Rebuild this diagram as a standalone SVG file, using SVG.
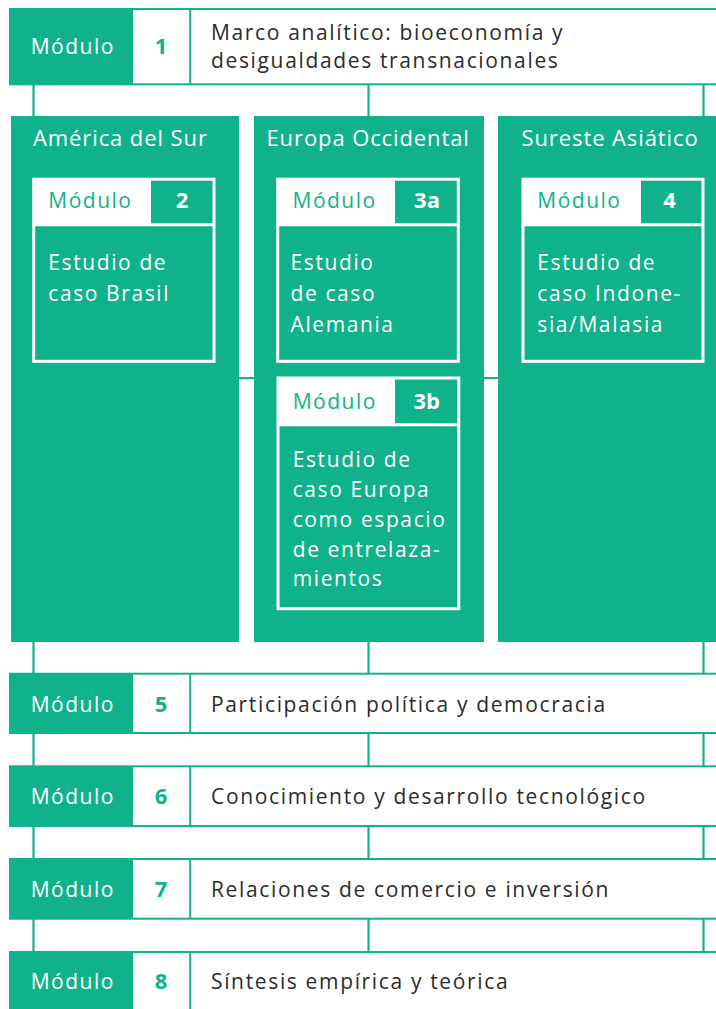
<svg xmlns="http://www.w3.org/2000/svg" width="716" height="1009" viewBox="0 0 716 1009">
<style>
text{font-family:"Open Sans","Noto Sans","Liberation Sans",sans-serif}
.bar{fill:#fff;stroke:#12b38c;stroke-width:2}
.gf{fill:#10b28b}
.div{stroke:#12b38c;stroke-width:2}
.con{stroke:#12b38c;stroke-width:2.2;fill:none}
.col{fill:#10b28b}
.box{fill:#10b28b;stroke:#fff;stroke-width:3}
.hw{fill:#fff}
.sep{stroke:#fff;stroke-width:3}
.mw{fill:#fff;font-size:21px;letter-spacing:1.5px}
.num{fill:#10b28b;font-size:22px;font-weight:700;text-anchor:middle}
.t{fill:#2b2b2b;font-size:21px;letter-spacing:1.65px}
.hd{fill:#fff;font-size:22px;letter-spacing:0.9px}
.mg{fill:#10b28b;font-size:21px;letter-spacing:1.5px}
.nw{fill:#fff;font-size:22px;font-weight:700;text-anchor:middle}
.bt{fill:#fff;font-size:21px;letter-spacing:1.6px}
</style>
<g id="connectors">
<path class="con" d="M33.5 84V117M368.5 84V117M703.5 84V117"/>
<path class="con" d="M239 378H498"/>
<path class="con" d="M33.5 641V674M368.5 641V674M703.5 641V674"/>
<path class="con" d="M33.5 733V766M368.5 733V766M703.5 733V766"/>
<path class="con" d="M33.5 826V859M368.5 826V859M703.5 826V859"/>
<path class="con" d="M33.5 919V952M368.5 919V952M703.5 919V952"/>
</g>
<g id="mod1">
<rect class="bar" x="10" y="9" width="720" height="75.3"/>
<rect class="gf" x="10" y="9" width="123" height="75.3"/>
<line class="div" x1="190.2" y1="9" x2="190.2" y2="84.3"/>
<text class="mw" x="30.7" y="53.5">Módulo</text>
<text class="num" x="161" y="53.5">1</text>
<text class="t" x="211" y="40">Marco analítico: bioeconomía y</text>
<text class="t" x="211" y="68">desigualdades transnacionales</text>
</g>
<g id="col-america">
<rect class="col" x="11" y="116" width="228" height="526"/>
<text class="hd" x="33" y="146">América del Sur</text>
</g>
<g id="col-europa">
<rect class="col" x="254" y="116" width="230" height="526"/>
<text class="hd" x="266.5" y="146">Europa Occidental</text>
</g>
<g id="col-asia">
<rect class="col" x="498" y="116" width="230" height="526"/>
<text class="hd" x="521.5" y="146">Sureste Asiático</text>
</g>
<g id="mod2">
<rect class="box" x="33.7" y="179.2" width="180.3" height="182.1"/>
<rect class="hw" x="33.7" y="179.2" width="117.3" height="45.5"/>
<line class="sep" x1="33.7" y1="224.7" x2="214" y2="224.7"/>
<text class="mg" x="48.3" y="208.3">Módulo</text>
<text class="nw" x="182" y="208.3">2</text>
<text class="bt" x="48.3" y="270">Estudio de</text>
<text class="bt" x="48.3" y="300.7">caso Brasil</text>
</g>
<g id="mod3a">
<rect class="box" x="277.7" y="179.2" width="180.6" height="182.1"/>
<rect class="hw" x="277.7" y="179.2" width="117.3" height="45.5"/>
<line class="sep" x1="277.7" y1="224.7" x2="458.3" y2="224.7"/>
<text class="mg" x="292.5" y="208.3">Módulo</text>
<text class="nw" x="427" y="208.3">3a</text>
<text class="bt" x="290.5" y="270">Estudio</text>
<text class="bt" x="290.5" y="300.7">de caso</text>
<text class="bt" x="290.5" y="331.7">Alemania</text>
</g>
<g id="mod3b">
<rect class="box" x="278" y="378" width="180.8" height="230.7"/>
<rect class="hw" x="278" y="378" width="117" height="46.7"/>
<line class="sep" x1="278" y1="424.7" x2="458.8" y2="424.7"/>
<text class="mg" x="292.7" y="409.3">Módulo</text>
<text class="nw" x="426.7" y="409.3">3b</text>
<text class="bt" x="292.7" y="467.3">Estudio de</text>
<text class="bt" x="292.7" y="497.3">caso Europa</text>
<text class="bt" x="292.7" y="526.7">como espacio</text>
<text class="bt" x="292.7" y="556.7">de entrelaza-</text>
<text class="bt" x="292.7" y="586">mientos</text>
</g>
<g id="mod4">
<rect class="box" x="523" y="179.2" width="180" height="182.1"/>
<rect class="hw" x="523" y="179.2" width="118" height="45.5"/>
<line class="sep" x1="523" y1="224.7" x2="703" y2="224.7"/>
<text class="mg" x="537.3" y="208.3">Módulo</text>
<text class="nw" x="669.5" y="208.3">4</text>
<text class="bt" x="537.3" y="270">Estudio de</text>
<text class="bt" x="537.3" y="300.7">caso Indone-</text>
<text class="bt" x="537.3" y="331.7">sia/Malasia</text>
</g>
<g id="mod5">
<rect class="bar" x="10" y="673.7" width="720" height="59.3"/>
<rect class="gf" x="10" y="673.7" width="123" height="59.3"/>
<line class="div" x1="190.2" y1="673.7" x2="190.2" y2="733"/>
<text class="mw" x="30.7" y="711.7">Módulo</text>
<text class="num" x="161" y="711.7">5</text>
<text class="t" x="211" y="711.7">Participación política y democracia</text>
</g>
<g id="mod6">
<rect class="bar" x="10" y="766.3" width="720" height="59.7"/>
<rect class="gf" x="10" y="766.3" width="123" height="59.7"/>
<line class="div" x1="190.2" y1="766.3" x2="190.2" y2="826"/>
<text class="mw" x="30.7" y="804">Módulo</text>
<text class="num" x="161" y="804">6</text>
<text class="t" x="211" y="804">Conocimiento y desarrollo tecnológico</text>
</g>
<g id="mod7">
<rect class="bar" x="10" y="859" width="720" height="59.7"/>
<rect class="gf" x="10" y="859" width="123" height="59.7"/>
<line class="div" x1="190.2" y1="859" x2="190.2" y2="918.7"/>
<text class="mw" x="30.7" y="897.3">Módulo</text>
<text class="num" x="161" y="897.3">7</text>
<text class="t" x="211" y="897.3">Relaciones de comercio e inversión</text>
</g>
<g id="mod8">
<rect class="bar" x="10" y="952" width="720" height="60"/>
<rect class="gf" x="10" y="952" width="123" height="60"/>
<line class="div" x1="190.2" y1="952" x2="190.2" y2="1012"/>
<text class="mw" x="30.7" y="988.5">Módulo</text>
<text class="num" x="161" y="988.5">8</text>
<text class="t" x="211" y="988.5">Síntesis empírica y teórica</text>
</g>
</svg>
